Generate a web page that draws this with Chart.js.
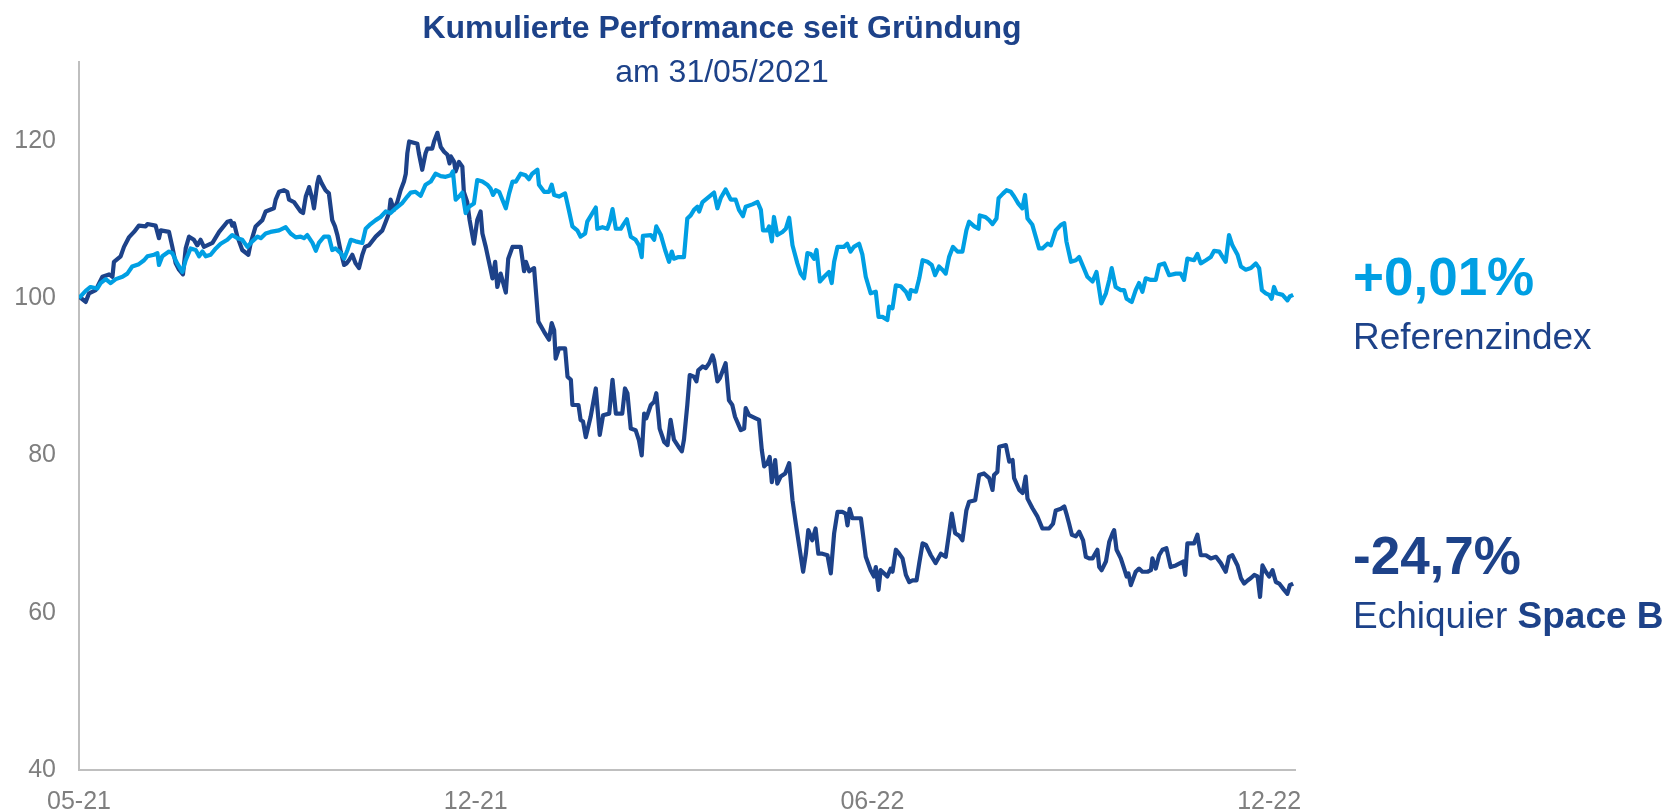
<!DOCTYPE html>
<html>
<head>
<meta charset="utf-8">
<title>Kumulierte Performance seit Gründung</title>
<script src="https://cdn.jsdelivr.net/npm/chart.js"></script>
<style>
  html, body { margin: 0; padding: 0; background: #fff; }
  #wrap { position: relative; width: 1668px; height: 812px; overflow: hidden;
          font-family: "Liberation Sans", Arial, sans-serif; }
  #perfChart { position: absolute; left: 0; top: 0; }
  .txt { position: absolute; line-height: 1; white-space: nowrap; margin: 0; }
  .head { left: 0; width: 1444px; text-align: center; color: #1d4289; font-size: 32px; }
  #title { top: 11px; font-weight: bold; }
  #subtitle { top: 55px; }
  .side { left: 1353px; }
  .pct { font-size: 53px; font-weight: bold; }
  .name { font-size: 37px; color: #1d4289; }
  #refPct { top: 250px; color: #009fe3; }
  #refName { top: 318px; }
  #fundPct { top: 529px; color: #1d4289; }
  #fundName { top: 597px; }
</style>
</head>
<body>
<div id="wrap">
  <canvas id="perfChart" width="1668" height="812"></canvas>
  <div class="txt head" id="title">Kumulierte Performance seit Gründung</div>
  <div class="txt head" id="subtitle">am 31/05/2021</div>
  <div class="txt side pct" id="refPct">+0,01%</div>
  <div class="txt side name" id="refName">Referenzindex</div>
  <div class="txt side pct" id="fundPct">-24,7%</div>
  <div class="txt side name" id="fundName">Echiquier <b>Space B</b></div>
</div>
<script>
// Achsen
const xTickPos = [0, 130.5, 261, 391.5];
const xTickLabels = ['05-21', '12-21', '06-22', '12-22'];
const yTicks = [40, 60, 80, 100, 120];

// Echiquier Space B (Position = Handelstag seit Auflage)
const spaceX = [0, 2.2, 3.3, 5.5, 7.7, 9.9, 11, 11.5, 13.7, 14.8, 16.4, 18.1, 19.7, 21.9, 22.5, 25.2, 26.3, 26.9, 29.6, 30.7,
  31.8, 32.9, 34.2, 35.1, 36.2, 37.8, 38.9, 40, 41.1, 43.9, 46.1, 48.8, 49.9, 50.4, 51, 52.1, 53.7, 55.7, 56.5, 58.1,
  60.3, 61.4, 64.1, 64.7, 65.8, 67.4, 68.5, 69.1, 70.7, 72.9, 73.7, 74.6, 75.7, 76.8, 77.3, 78.4, 78.9, 79.8, 81.1, 82.2,
  83.3, 84.2, 85, 86.1, 87.2, 88, 88.8, 89.9, 91, 92.1, 93.2, 94.1, 95.4, 97.6, 99.8, 100.9, 102, 102.5, 103.6, 104.7,
  105.8, 106.9, 107.5, 108, 108.6, 111.3, 111.8, 112.9, 114, 114.6, 116.2, 116.8, 117.9, 119, 120.1, 121.2, 121.9, 122.3, 123.4, 123.9,
  125, 126.1, 126.6, 127.7, 128.5, 129.9, 131, 132.1, 132.7, 133.8, 135.4, 136, 136.9, 137.6, 138.7, 140.4, 141.2, 142.6, 145.3, 146.4,
  147, 148.1, 149.7, 151.1, 153, 154.6, 155.5, 156.3, 156.8, 157.9, 159.9, 160.7, 161.8, 162.3, 164.3, 165, 165.8, 166.7, 168.3, 170,
  171.3, 172.4, 174.4, 175.5, 176.6, 178.7, 179.6, 180.4, 181.5, 183.1, 184.2, 185.1, 185.9, 186.6, 188.1, 189.2, 189.9, 191, 192.5, 193.6,
  194.6, 195.7, 197.2, 198.3, 199, 200.1, 200.9, 202.3, 203.1, 203.7, 205.1, 206.2, 207.3, 208.4, 208.9, 210, 210.8, 212.7, 213.8, 214.9,
  215.8, 217.7, 218.8, 219.3, 220.4, 222.6, 223.7, 224.6, 225.4, 226.4, 227.2, 227.9, 229, 229.7, 230.8, 232.3, 233.6, 234.7, 235.8, 237.1,
  238.2, 239.1, 239.9, 241.2, 242.3, 243.2, 244.5, 246.2, 247.3, 248.4, 249.5, 251.1, 252.2, 252.8, 253.5, 254.4, 257.2, 257.7, 258.8, 260.4,
  261.5, 262.1, 263, 263.7, 264.8, 265.9, 267, 267.6, 268.7, 269.8, 270.9, 272, 273.1, 274.2, 275.5, 276.4, 277.5, 278.6, 280.2, 281.8,
  283.5, 285.1, 286.2, 287.1, 288.2, 289.5, 290.6, 291.9, 292.8, 294.8, 296.1, 297.7, 299.4, 300.5, 301, 302.1, 302.7, 304.9, 306, 307.1,
  307.6, 309.3, 310.4, 311.4, 312, 313.6, 315.3, 316.9, 319.1, 320.4, 321.3, 323, 324.1, 324.8, 325.7, 326.6, 327.9, 329, 330.3, 331.2,
  332.3, 333.4, 335, 335.6, 336.4, 337.8, 338.9, 340, 340.5, 341.3, 342.7, 343.8, 344.6, 345.2, 346, 347.6, 348.7, 349.8, 351.5, 352.6,
  353.1, 354.2, 355.3, 356.4, 357.7, 359.1, 360.8, 363.2, 363.9, 364.6, 366.8, 367.9, 369, 370.7, 372.3, 374, 375.6, 377.2, 378.3, 379.4,
  381.1, 382.2, 383.3, 384.4, 385.5, 386.6, 387.7, 388.5, 389.3, 390.4, 391.5, 392.6, 393.7, 394.8, 396.4, 397.5, 398.3, 399.4];
const spaceY = [100.2, 99.5, 100.6, 101.0, 102.7, 103.0, 102.7, 104.6, 105.3, 106.5, 107.7, 108.4, 109.2, 109.1, 109.4, 109.2, 107.6, 108.6, 108.4, 106.5,
  104.4, 103.6, 103.0, 106.3, 107.8, 107.4, 106.7, 107.4, 106.5, 107.0, 108.4, 109.7, 109.8, 109.2, 109.5, 107.8, 106.1, 105.5, 107.0, 109.1,
  109.9, 111.0, 111.4, 112.5, 113.5, 113.7, 113.5, 112.5, 112.2, 111.0, 110.8, 112.9, 114.1, 112.5, 111.4, 114.6, 115.4, 114.6, 113.7, 113.3,
  109.9, 109.1, 108.0, 105.9, 104.2, 104.4, 104.8, 105.5, 104.4, 103.8, 105.5, 106.5, 106.7, 107.8, 108.6, 109.7, 110.8, 112.5, 111.2, 112.2,
  113.7, 114.8, 115.8, 118.4, 119.9, 119.6, 118.4, 116.3, 118.4, 119.0, 119.0, 119.9, 121.0, 119.2, 118.6, 118.2, 117.1, 118.0, 117.3, 116.1,
  117.3, 116.7, 113.5, 112.2, 109.9, 106.9, 109.9, 111.0, 108.2, 106.5, 103.6, 102.5, 104.6, 101.4, 103.1, 100.7, 105.0, 106.5, 106.5, 103.4,
  104.6, 103.4, 103.8, 97.0, 95.7, 94.7, 96.8, 95.9, 92.3, 93.6, 93.6, 90.0, 89.6, 86.4, 86.4, 84.5, 84.3, 82.3, 84.9, 88.5,
  82.6, 85.1, 85.3, 89.6, 85.3, 85.3, 88.5, 87.9, 83.4, 83.2, 81.9, 80.0, 85.3, 84.7, 86.4, 86.8, 87.9, 83.4, 81.7, 81.3,
  84.5, 82.0, 81.1, 80.5, 82.0, 86.4, 90.2, 90.0, 89.4, 90.8, 91.3, 91.1, 91.7, 92.7, 92.1, 89.4, 89.8, 91.7, 87.0, 86.4,
  84.9, 83.2, 83.4, 86.0, 85.1, 84.7, 84.5, 80.7, 78.6, 79.0, 79.8, 76.6, 79.4, 76.4, 77.3, 77.7, 79.0, 74.3, 71.3, 68.0,
  65.2, 67.5, 70.5, 69.2, 70.7, 67.5, 67.5, 67.3, 65.0, 70.1, 72.8, 72.8, 72.6, 71.1, 73.2, 72.0, 72.0, 70.5, 67.1, 65.4,
  64.6, 65.8, 62.9, 65.4, 65.0, 64.6, 65.6, 65.2, 68.0, 67.5, 66.9, 64.8, 63.9, 64.1, 64.1, 66.3, 68.8, 68.6, 67.3, 66.3,
  67.5, 67.1, 70.1, 72.6, 70.1, 69.8, 69.2, 73.0, 74.1, 74.3, 77.5, 77.7, 77.1, 75.6, 77.5, 77.9, 81.1, 81.3, 79.2, 79.4,
  77.1, 75.6, 75.2, 77.3, 74.5, 73.3, 72.2, 70.7, 70.7, 71.3, 73.0, 73.2, 73.5, 72.6, 71.3, 69.9, 69.7, 70.3, 69.2, 67.1,
  66.9, 66.9, 68.0, 65.8, 65.4, 66.5, 69.0, 70.1, 70.5, 68.0, 66.9, 65.6, 64.6, 65.0, 63.5, 65.2, 65.6, 65.2, 65.2, 65.4,
  66.9, 65.6, 67.3, 68.0, 68.2, 65.8, 66.0, 66.5, 64.8, 68.8, 68.8, 69.9, 67.3, 67.3, 66.9, 67.1, 66.3, 65.2, 67.1, 67.3,
  66.0, 64.4, 63.7, 64.1, 64.4, 64.8, 64.6, 62.0, 66.0, 65.2, 64.6, 65.4, 63.9, 63.7, 62.9, 62.4, 63.5, 63.7];

// Referenzindex
const refX = [0, 2.2, 3.8, 6, 7.1, 8.8, 10.4, 12.1, 14.3, 15.9, 17.5, 19.7, 21.4, 22.5, 24.7, 25.8, 26.3, 27.4, 29.6, 30.7,
  32.3, 34, 35.1, 36.7, 38.4, 39.5, 40.6, 41.7, 43.3, 45, 46.6, 48.8, 50.4, 52.1, 53.7, 55.4, 57, 58.7, 59.8, 61.4,
  63, 65.8, 68, 69.6, 71.3, 72.9, 74, 75.1, 76.8, 77.9, 78.9, 80.6, 82.2, 83.3, 84.4, 86.1, 87.2, 88.3, 89.4, 91,
  93.2, 94.3, 95.9, 97.6, 99.2, 100.9, 102.5, 104.2, 106.4, 108, 109.1, 110.7, 112.4, 114, 115.7, 117.3, 119, 120.6, 122.3, 123,
  123.9, 125, 126.1, 127.2, 128.3, 129.9, 131, 132.7, 134.3, 135.4, 136.2, 137.1, 138.2, 140.4, 141.5, 142.6, 143.7, 145.3, 146.9, 148,
  149.1, 150.8, 151.3, 153, 154.6, 155.5, 156.3, 157.9, 159.9, 161, 162.3, 163.9, 165, 166.5, 167.2, 168.9, 170, 170.5, 172.2, 173.8,
  174.6, 175.5, 176.6, 178.2, 179, 180.2, 181.5, 183.1, 184.2, 185.1, 185.5, 188.1, 189.2, 189.9, 191.4, 192.8, 194.1, 195, 195.7, 197.2,
  199, 200.1, 201.2, 202.3, 203.4, 204, 205.1, 207.3, 208.9, 210, 211.1, 212.7, 214.4, 216, 217.1, 218.4, 219.3, 221.5, 223.2, 224.3,
  225, 226.4, 227, 227.9, 228.6, 229.7, 231.4, 232.5, 233.6, 234.7, 236.3, 237.4, 238.5, 239.6, 240.7, 241.8, 242.6, 243.7, 245.1, 246.7,
  247.6, 248.4, 249.5, 251.6, 252.7, 253.8, 254.9, 256.6, 257.7, 258.8, 260.4, 262.1, 263, 264.3, 265.9, 266.5, 267.6, 268.7, 270.3, 272,
  273.1, 273.6, 275.3, 276.4, 277.5, 279.1, 280.5, 281.6, 282.9, 284, 285.1, 286.2, 287.5, 289, 290.6, 291.9, 292.8, 294.5, 295.9, 296.3,
  298.1, 299.4, 300.5, 301.8, 302.5, 304, 305.1, 306.5, 307.6, 309, 310.3, 311.2, 312, 313.6, 314.7, 315.8, 316.9, 318.6, 319.7, 321.3,
  323, 324.1, 324.8, 326.3, 327.9, 329, 330.3, 331.7, 333.4, 334.7, 336.3, 337.8, 338.9, 339.7, 341, 342.7, 343.8, 344.6, 345.4, 346.3,
  347.6, 348.7, 349.8, 350.9, 352.6, 354.2, 355.3, 357, 358.6, 360.8, 362.4, 363.5, 364.6, 366.8, 367.9, 369, 370.7, 372.3, 373.4, 375.1,
  376.2, 377.2, 378.3, 379.4, 381.1, 382.2, 383.8, 385.5, 387.1, 388.2, 389.1, 390.4, 391.5, 392.3, 393.1, 393.9, 395.9, 397.5, 398.3, 399.4];
const refY = [100.0, 100.9, 101.4, 101.2, 101.9, 102.4, 101.9, 102.4, 102.7, 103.1, 104.0, 104.3, 104.8, 105.3, 105.5, 105.7, 104.2, 105.3, 105.9, 105.7,
  104.4, 103.3, 104.8, 106.3, 106.1, 105.3, 105.9, 105.3, 105.5, 106.3, 106.9, 107.4, 108.0, 107.6, 107.4, 106.5, 107.2, 107.8, 107.6, 108.2,
  108.4, 108.6, 109.0, 108.2, 107.7, 107.8, 107.6, 108.0, 107.0, 106.0, 107.0, 107.8, 107.8, 106.1, 106.3, 105.7, 105.0, 106.1, 107.4, 107.2,
  107.0, 108.8, 109.4, 109.9, 110.3, 111.0, 110.8, 111.4, 112.1, 112.9, 113.4, 113.5, 113.0, 114.4, 114.8, 115.8, 115.5, 115.4, 115.6, 116.1,
  112.5, 112.9, 113.4, 110.8, 111.6, 112.0, 115.0, 114.8, 114.4, 113.9, 113.1, 113.7, 113.5, 111.4, 113.3, 114.8, 114.8, 115.8, 115.6, 115.1,
  115.8, 116.3, 114.4, 113.5, 113.5, 114.4, 113.1, 112.9, 113.3, 111.4, 109.1, 108.6, 107.8, 108.2, 109.7, 110.8, 111.5, 108.8, 109.0, 108.8,
  109.7, 111.3, 108.8, 108.8, 109.3, 110.0, 107.8, 107.4, 106.7, 105.2, 107.9, 108.0, 107.4, 109.1, 108.0, 106.1, 104.6, 105.9, 105.0, 105.2,
  105.2, 110.1, 110.5, 111.2, 111.6, 111.0, 112.2, 112.9, 113.4, 111.4, 112.7, 113.8, 112.5, 112.5, 111.2, 110.4, 111.6, 111.9, 112.2, 111.2,
  108.6, 108.6, 109.1, 107.2, 110.3, 108.0, 108.4, 108.8, 110.2, 106.7, 104.4, 103.1, 102.5, 105.7, 105.6, 105.0, 106.1, 102.1, 102.7, 103.3,
  101.9, 104.6, 106.5, 106.5, 106.9, 105.9, 106.5, 106.9, 105.5, 102.7, 100.6, 100.8, 97.6, 97.6, 97.2, 98.9, 98.7, 101.6, 101.5, 100.8,
  99.9, 101.0, 100.8, 102.5, 104.8, 104.6, 104.2, 102.9, 104.0, 103.6, 103.1, 105.2, 106.5, 105.9, 105.9, 108.6, 109.7, 109.1, 108.8, 110.5,
  110.3, 109.9, 109.4, 110.1, 112.7, 113.3, 113.7, 113.5, 112.9, 112.0, 111.4, 113.1, 110.1, 109.3, 107.8, 106.3, 106.3, 106.9, 106.7, 108.6,
  109.3, 109.5, 107.2, 104.6, 104.8, 105.2, 104.0, 102.7, 102.1, 103.3, 99.3, 100.6, 102.3, 103.8, 101.4, 101.0, 101.0, 99.9, 99.7, 99.5,
  101.0, 101.9, 100.8, 102.5, 102.3, 102.3, 104.2, 104.4, 102.9, 103.1, 103.1, 102.3, 105.0, 104.8, 105.6, 104.4, 104.8, 105.2, 106.0, 105.9,
  105.2, 104.6, 108.0, 106.7, 105.5, 104.0, 103.6, 103.8, 104.4, 103.8, 101.0, 100.6, 100.4, 99.9, 101.4, 100.6, 100.4, 99.7, 100.2, 100.4];

const toPoints = (xs, ys) => xs.map((x, i) => ({ x: x, y: ys[i] }));

const ctx = document.getElementById('perfChart').getContext('2d');
const perfChart = new Chart(ctx, {
    type: 'line',
    data: {
        datasets: [{
            label: 'Referenzindex',
            data: toPoints(refX, refY),
            borderColor: '#009fe3',
            borderWidth: 4.2,
            pointRadius: 0,
            tension: 0,
            borderJoinStyle: 'round'
        }, {
            label: 'Echiquier Space B',
            data: toPoints(spaceX, spaceY),
            borderColor: '#1d4289',
            borderWidth: 4.2,
            pointRadius: 0,
            tension: 0,
            borderJoinStyle: 'round'
        }]
    },
    options: {
        responsive: false,
        animation: false,
        devicePixelRatio: 1,
        layout: { padding: { top: 62, right: 373, bottom: 0, left: 0 } },
        plugins: {
            legend: { display: false },
            tooltip: { enabled: false }
        },
        scales: {
            x: {
                type: 'linear',
                min: 0,
                max: 400,
                afterBuildTicks: (scale) => { scale.ticks = xTickPos.map(v => ({ value: v })); },
                afterFit: (scale) => { scale.height = 42; },
                grid: { display: false, drawTicks: false },
                border: { display: true, color: '#bfbfbf', width: 2 },
                ticks: {
                    padding: 20,
                    maxRotation: 0,
                    autoSkip: false,
                    color: '#7f7f7f',
                    font: { family: '"Liberation Sans", Arial, sans-serif', size: 25, lineHeight: 1 },
                    callback: (value) => xTickLabels[xTickPos.indexOf(value)]
                }
            },
            y: {
                min: 40,
                max: 130,
                afterBuildTicks: (scale) => { scale.ticks = yTicks.map(v => ({ value: v })); },
                afterFit: (scale) => { scale.width = 79; },
                grid: { display: false, drawTicks: false },
                border: { display: true, color: '#bfbfbf', width: 2 },
                ticks: {
                    padding: 23,
                    color: '#7f7f7f',
                    font: { family: '"Liberation Sans", Arial, sans-serif', size: 25, lineHeight: 1 }
                }
            }
        }
    }
});
</script>
</body>
</html>
